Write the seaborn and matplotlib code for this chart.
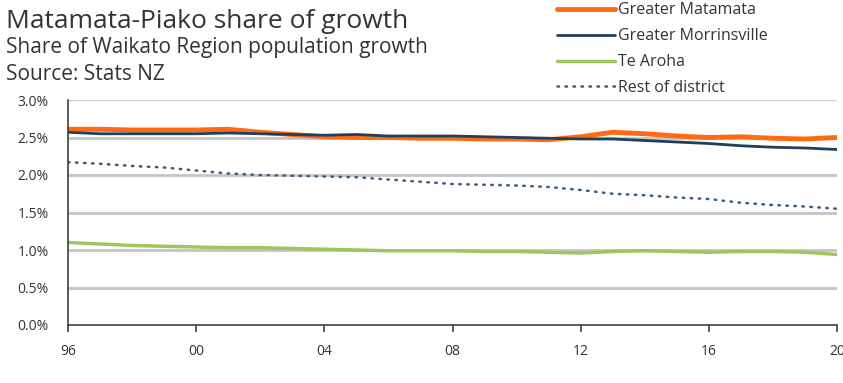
import matplotlib
matplotlib.use("Agg")
import matplotlib.pyplot as plt
import seaborn as sns
import pandas as pd
import numpy as np

years = list(range(1996, 2021))
greater_matamata = [2.61, 2.61, 2.60, 2.60, 2.60, 2.61, 2.57, 2.54, 2.51, 2.50, 2.50, 2.49, 2.49, 2.48,
                    2.48, 2.47, 2.51, 2.57, 2.55, 2.52, 2.50, 2.51, 2.49, 2.48, 2.50]
greater_morrinsville = [2.57, 2.55, 2.55, 2.55, 2.55, 2.56, 2.55, 2.54, 2.53, 2.54, 2.52, 2.52, 2.52, 2.51,
                        2.50, 2.49, 2.48, 2.48, 2.46, 2.44, 2.42, 2.39, 2.37, 2.36, 2.34]
te_aroha = [1.10, 1.08, 1.06, 1.05, 1.04, 1.03, 1.03, 1.02, 1.01, 1.00, 0.99, 0.99, 0.99, 0.98,
            0.98, 0.97, 0.96, 0.98, 0.99, 0.98, 0.97, 0.98, 0.98, 0.97, 0.94]
rest_of_district = [2.17, 2.15, 2.12, 2.10, 2.06, 2.02, 2.00, 1.99, 1.98, 1.97, 1.94, 1.91, 1.88, 1.87,
                    1.86, 1.84, 1.80, 1.75, 1.73, 1.70, 1.68, 1.63, 1.60, 1.58, 1.55]
series_names = ["Greater Matamata", "Greater Morrinsville", "Te Aroha", "Rest of district"]
tick_years = [1996, 2000, 2004, 2008, 2012, 2016, 2020]
tick_labels = ["96", "00", "04", "08", "12", "16", "20"]
y_ticks = [0.0, 0.5, 1.0, 1.5, 2.0, 2.5, 3.0]

sns.set_theme(style="white")
plt.rcParams['font.family'] = ['Open Sans', 'DejaVu Sans']

df = pd.DataFrame({
    "year": years * 4,
    "value": greater_matamata + greater_morrinsville + te_aroha + rest_of_district,
    "series": sum([[n] * len(years) for n in series_names], []),
})

colors = {"Greater Matamata": "#FF6A13", "Greater Morrinsville": "#1F3F5A",
          "Te Aroha": "#9DC65C", "Rest of district": "#3B5E7E"}
widths = {"Greater Matamata": 3.5, "Greater Morrinsville": 2.0,
          "Te Aroha": 2.5, "Rest of district": 1.8}

fig = plt.figure(figsize=(8.43, 3.83), dpi=100)
ax = fig.add_axes([68/843, 1-325/383, (837-68)/843, (325-100)/383])

for g in [0.5, 1.0, 1.5, 2.0, 2.5]:
    ax.axhline(g, color="#C4C4C4", lw=2.0, zorder=0)
ax.axhline(3.0, color="#D0D0D0", lw=1.0, zorder=0)

handles = []
for name in series_names:
    sub = df[df["series"] == name]
    sns.lineplot(data=sub, x="year", y="value", ax=ax, color=colors[name],
                 lw=widths[name], legend=False)
    line = ax.get_lines()[-1]
    if name == "Rest of district":
        line.set_linestyle((0, (0.6, 2.6)))
        line.set_dash_capstyle("round")
    line.set_label(name)
    handles.append(line)

ax.set_xlim(1996, 2020)
ax.set_ylim(0, 3.0)
ax.set_xticks(tick_years)
ax.set_xticklabels(tick_labels)
ax.set_yticks(y_ticks)
ax.set_yticklabels([f"{v:.1f}%" for v in y_ticks])
ax.set_xlabel("")
ax.set_ylabel("")
for s in ["top", "right"]:
    ax.spines[s].set_visible(False)
for s in ["left", "bottom"]:
    ax.spines[s].set_color("#404040")
    ax.spines[s].set_linewidth(1.2)
ax.tick_params(axis="x", bottom=True, length=5, width=1.2, color="#404040",
               labelsize=10, labelcolor="#333333", pad=9)
ax.tick_params(axis="y", left=False, labelsize=10, labelcolor="#333333", pad=8)
for lab in ax.get_xticklabels():
    lab.set_clip_on(False)

fig.text(6/843, 1-21/383, "Matamata-Piako share of growth", fontsize=19, color="#333333", va="center")
fig.text(6/843, 1-48/383, "Share of Waikato Region population growth", fontsize=15, color="#333333", va="center")
fig.text(6/843, 1-75/383, "Source: Stats NZ", fontsize=15, color="#333333", va="center")

fig.legend(handles=handles, labels=series_names, loc="upper left",
           bbox_to_anchor=(543/843, 1+12/383), frameon=False, fontsize=11.5,
           handlelength=3.6, labelspacing=0.62, handletextpad=0.2,
           labelcolor="#333333")

fig.savefig("out.png", dpi=100)
